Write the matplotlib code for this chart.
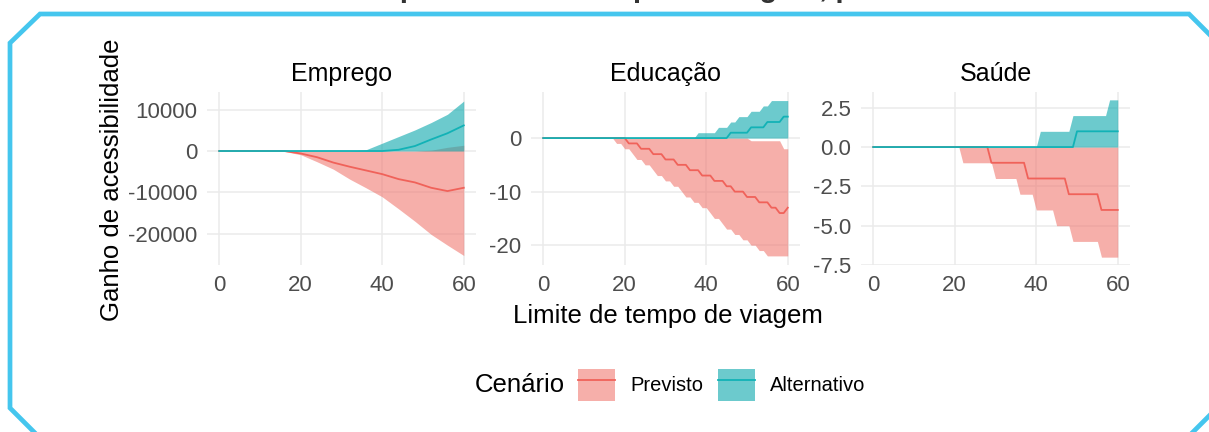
import numpy as np
import matplotlib
matplotlib.use("Agg")
import matplotlib.pyplot as plt
from matplotlib.lines import Line2D
from matplotlib.patches import Patch
from matplotlib.legend_handler import HandlerTuple

plt.rcParams['font.family'] = ['Liberation Sans', 'DejaVu Sans']
plt.rcParams['axes.unicode_minus'] = False

# ---- data ----
# Emprego: smooth curves, sampled every 4 minutes
emp_x = [0, 4, 8, 12, 16, 20, 24, 28, 32, 36, 40, 44, 48, 52, 56, 60]
emp_prev_med = [0, 0, 0, 0, 0, -600, -1500, -2800, -3800, -4700, -5600, -6800, -7600, -8900, -9700, -8900]
emp_prev_low = [0, 0, 0, 0, -100, -900, -2600, -4400, -6800, -8900, -11100, -14000, -17000, -20200, -22800, -25300]
emp_prev_high = [0, 0, 0, 0, 0, 0, 0, 0, 0, 0, 0, 0, 0, 200, 900, 1400]
emp_alt_med = [0, 0, 0, 0, 0, 0, 0, 0, 0, 0, 0, 300, 1200, 2800, 4300, 6200]
emp_alt_low = [0, 0, 0, 0, 0, 0, 0, 0, 0, 0, 0, 0, 0, 0, 0, 0]
emp_alt_high = [0, 0, 0, 0, 0, 0, 0, 0, 0, 300, 1900, 3500, 5100, 6900, 8900, 12100]

# Educação and Saúde: one value per minute (0..60)
minutes = list(range(61))
edu_prev_med = [0] * 21 + [-1, -1, -1, -2, -2, -2, -3, -3, -3, -4, -4, -4, -5, -5, -5, -6, -6, -6,
                           -7, -7, -7, -8, -8, -8, -9, -9, -10, -10, -10, -11, -11, -11, -12, -12,
                           -12, -13, -13, -14, -14, -13]
edu_prev_low = [0] * 18 + [-1, -1, -2, -2, -3, -4, -4, -5, -5, -6, -7, -7, -8, -8, -9, -9, -10, -11,
                           -11, -12, -12, -13, -13, -14, -15, -15, -16, -17, -17, -18, -18, -19, -19,
                           -20, -20, -21, -21, -22, -22, -22, -22, -22, -22]
edu_prev_high = [0] * 51 + [-0.5, -0.5, -0.5, -0.5, -0.5, -0.5, -0.5, -0.5, -2, -2]
edu_alt_med = [0] * 46 + [1, 1, 1, 1, 1, 2, 2, 2, 2, 3, 3, 3, 3, 4, 4]
edu_alt_low = [0] * 61
edu_alt_high = [0] * 38 + [1, 1, 1, 1, 1, 2, 2, 2, 3, 3, 4, 4, 4, 5, 5, 5, 6, 6, 7, 7, 7, 7, 7]

sau_prev_med = [0] * 29 + [-1] * 9 + [-2] * 10 + [-3] * 8 + [-4] * 5
sau_prev_low = [0] * 22 + [-1] * 8 + [-2] * 6 + [-3] * 4 + [-4] * 5 + [-5] * 4 + [-6] * 7 + [-7] * 5
sau_prev_high = [0] * 61
sau_alt_med = [0] * 50 + [1] * 11
sau_alt_low = [0] * 61
sau_alt_high = [0] * 41 + [1] * 8 + [2] * 9 + [3] * 3

panels = [
    ("Emprego", emp_x, emp_prev_low, emp_prev_med, emp_prev_high, emp_alt_low, emp_alt_med, emp_alt_high,
     [-20000, -10000, 0, 10000], ["-20000", "-10000", "0", "10000"], (-27600, 14290)),
    ("Educação", minutes, edu_prev_low, edu_prev_med, edu_prev_high, edu_alt_low, edu_alt_med, edu_alt_high,
     [-20, -10, 0], ["-20", "-10", "0"], (-23.7, 8.6)),
    ("Saúde", minutes, sau_prev_low, sau_prev_med, sau_prev_high, sau_alt_low, sau_alt_med, sau_alt_high,
     [-7.5, -5.0, -2.5, 0.0, 2.5], ["-7.5", "-5.0", "-2.5", "0.0", "2.5"], (-7.5, 3.5)),
]

prev_fill, prev_line = '#F07A72', '#F0625A'
alt_fill, alt_line = '#0AA8AD', '#12B2B6'
fill_alpha = 0.6

W, H = 1209, 432
fig = plt.figure(figsize=(W / 100, H / 100), dpi=100)

lefts = [207, 531, 861]
for left, (name, x, pl, pm, ph, al, am, ah, yt, ytl, ylim) in zip(lefts, panels):
    ax = fig.add_axes([left / W, 1 - 265 / H, 269 / W, 173 / H])
    ax.fill_between(x, pl, ph, color=prev_fill, alpha=fill_alpha, lw=0)
    ax.fill_between(x, al, ah, color=alt_fill, alpha=fill_alpha, lw=0)
    ax.plot(x, pm, color=prev_line, lw=1.3)
    ax.plot(x, am, color=alt_line, lw=1.3)
    ax.set_xlim(-3, 63)
    ax.set_ylim(*ylim)
    ax.set_xticks([0, 20, 40, 60])
    ax.set_yticks(yt)
    ax.set_yticklabels(ytl)
    ax.grid(True, color='#EBEBEB', lw=1.1)
    ax.set_axisbelow(True)
    for s in ax.spines.values():
        s.set_visible(False)
    ax.tick_params(length=0, labelsize=16, labelcolor='#4D4D4D', pad=7)
    ax.set_title(name, fontsize=18, pad=8)

fig.text(112 / W, 1 - 180 / H, "Ganho de acessibilidade", rotation=90, ha='center', va='center', fontsize=18.5)
fig.text(668 / W, 1 - 316 / H, "Limite de tempo de viagem", ha='center', va='center', fontsize=18.5)

# legend
fig.text(475 / W, 1 - 385 / H, "Cenário", ha='left', va='center', fontsize=18.5)
handles = [(Patch(facecolor=prev_fill, alpha=fill_alpha, lw=0), Line2D([], [], color=prev_line, lw=1.3)),
           (Patch(facecolor=alt_fill, alpha=fill_alpha, lw=0), Line2D([], [], color=alt_line, lw=1.3))]
fig.legend(handles, ["Previsto", "Alternativo"], handler_map={tuple: HandlerTuple(ndivide=1, pad=0)},
           loc='center left', bbox_to_anchor=(578 / W, 1 - 385 / H), ncol=2, frameon=False,
           fontsize=14.5, handlelength=1.84, handleheight=2.05, handletextpad=0.75,
           columnspacing=0.75, borderpad=0, borderaxespad=0)

# cut-off title at the top
fig.text(50 / W, 1 + 3 / H, "Ganho de acessibilidade por limite de tempo de viagem, por cenário",
         ha='left', va='baseline', fontsize=21, fontweight='bold', color='#333333')

# frame
border = '#45C6EE'
px = lambda pts: ([p[0] / W for p in pts], [1 - p[1] / H for p in pts])
bx, by = px([(36, 434), (10, 408), (10, 43), (40, 14), (1189, 14), (1229, 54)])
fig.add_artist(Line2D(bx, by, color=border, lw=3.4, solid_joinstyle='miter'))
bx, by = px([(1189, 436), (1229, 396)])
fig.add_artist(Line2D(bx, by, color=border, lw=3.4))

fig.savefig('out.png', dpi=100)
